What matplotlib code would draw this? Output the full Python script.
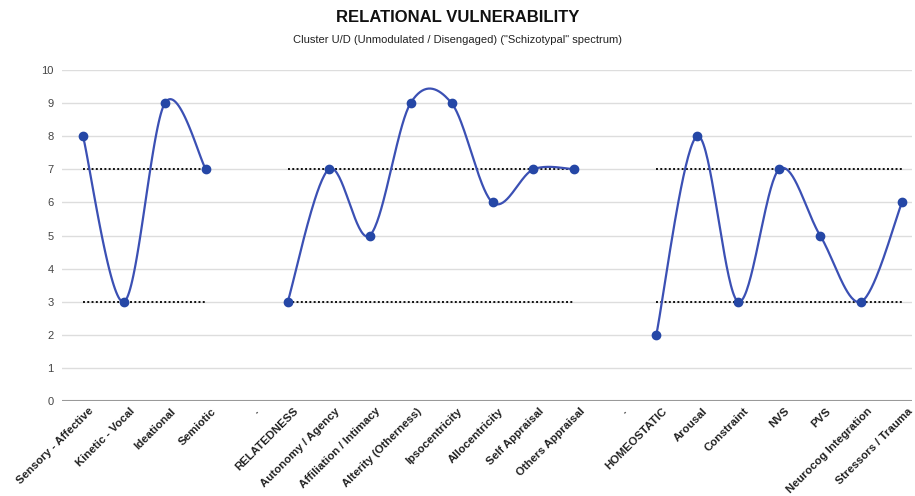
import numpy as np
import matplotlib
matplotlib.use("Agg")
import matplotlib.pyplot as plt
import matplotlib.transforms as mtransforms

plt.rcParams['font.family'] = ['Liberation Sans', 'DejaVu Sans']

categories = ["Sensory - Affective", "Kinetic - Vocal", "Ideational", "Semiotic", ".",
              "RELATEDNESS", "Autonomy / Agency", "Affiliation / Intimacy", "Alterity (Otherness)",
              "Ipsocentricity", "Allocentricity", "Self Appraisal", "Others Appraisal", ".",
              "HOMEOSTATIC", "Arousal", "Constraint", "NVS", "PVS", "Neurocog Integration",
              "Stressors / Trauma"]
values = [8, 3, 9, 7, None, 3, 7, 5, 9, 9, 6, 7, 7, None, 2, 8, 3, 7, 5, 3, 6]
upper_ref = 7
lower_ref = 3
groups = [(0, 3), (5, 12), (14, 20)]  # category index ranges of each group
yticks = list(range(0, 11))

LINE = '#3b50b4'
MARK = '#2547a6'


def smooth(xs, ys, n=40):
    xs = np.asarray(xs, float)
    ys = np.asarray(ys, float)
    m = len(xs)
    px = np.concatenate([[xs[0]], xs, [xs[-1]]])
    py = np.concatenate([[ys[0]], ys, [ys[-1]]])
    ox, oy = [], []
    for i in range(m - 1):
        p0x, p1x, p2x, p3x = px[i], px[i + 1], px[i + 2], px[i + 3]
        p0y, p1y, p2y, p3y = py[i], py[i + 1], py[i + 2], py[i + 3]
        c1x = p1x + (p2x - p0x) / 6
        c1y = p1y + (p2y - p0y) / 6
        c2x = p2x - (p3x - p1x) / 6
        c2y = p2y - (p3y - p1y) / 6
        t = np.linspace(0, 1, n)
        bx = (1 - t) ** 3 * p1x + 3 * (1 - t) ** 2 * t * c1x + 3 * (1 - t) * t ** 2 * c2x + t ** 3 * p2x
        by = (1 - t) ** 3 * p1y + 3 * (1 - t) ** 2 * t * c1y + 3 * (1 - t) * t ** 2 * c2y + t ** 3 * p2y
        ox.extend(bx)
        oy.extend(by)
    return np.array(ox), np.array(oy)


fig = plt.figure(figsize=(9.15, 4.96), dpi=100)
ax = fig.add_axes([62 / 915, 1 - 401 / 496, (912 - 62) / 915, (401 - 70) / 496])

x = np.arange(len(categories))

# reference dotted lines
for a, b in groups:
    ax.plot([a, b], [upper_ref, upper_ref], color='#111111', lw=1.4, ls=(0, (1, 1.2)), zorder=2)
    ax.plot([a, b], [lower_ref, lower_ref], color='#111111', lw=1.4, ls=(0, (1, 1.2)), zorder=2)

# smooth series by contiguous segments
seg = []
for i, v in enumerate(values + [None]):
    if v is None:
        if seg:
            sx = [s[0] for s in seg]
            sy = [s[1] for s in seg]
            cx, cy = smooth(sx, sy)
            ax.plot(cx, cy, color=LINE, lw=1.6, zorder=3)
            ax.plot(sx, sy, 'o', color=MARK, ms=6, zorder=4)
        seg = []
    else:
        seg.append((i, v))

ax.set_ylim(0, 10)
ax.set_xlim(-0.513, 20.244)
ax.set_yticks(yticks)
ax.set_yticklabels([str(t) for t in yticks], fontsize=8, color='#444444')
ax.yaxis.grid(True, color='#dddddd', lw=1)
ax.set_axisbelow(True)
ax.axhline(0, color='#999999', lw=1.5, zorder=1)
ax.set_xticks(x)
ax.set_xticklabels([])
offset = mtransforms.ScaledTranslation(5.5 / 100, -5 / 100, fig.dpi_scale_trans)
lbl_trans = ax.get_xaxis_transform() + offset
for xi, name in zip(x, categories):
    ax.text(xi, 0, name, transform=lbl_trans, rotation=45, ha='right', va='top',
            rotation_mode='anchor', fontsize=8.2, fontweight='bold', color='#222222',
            clip_on=False)
ax.tick_params(axis='both', length=0)
ax.tick_params(axis='y', pad=6)
for s in ax.spines.values():
    s.set_visible(False)

fig.text(0.5, 1 - 18 / 496, "RELATIONAL VULNERABILITY", ha='center', va='center',
         fontsize=12, fontweight='bold', color='#111111')
fig.text(0.5, 1 - 40 / 496, 'Cluster U/D (Unmodulated / Disengaged) ("Schizotypal" spectrum)',
         ha='center', va='center', fontsize=8, color='#222222')

fig.savefig('out.png', dpi=100)
